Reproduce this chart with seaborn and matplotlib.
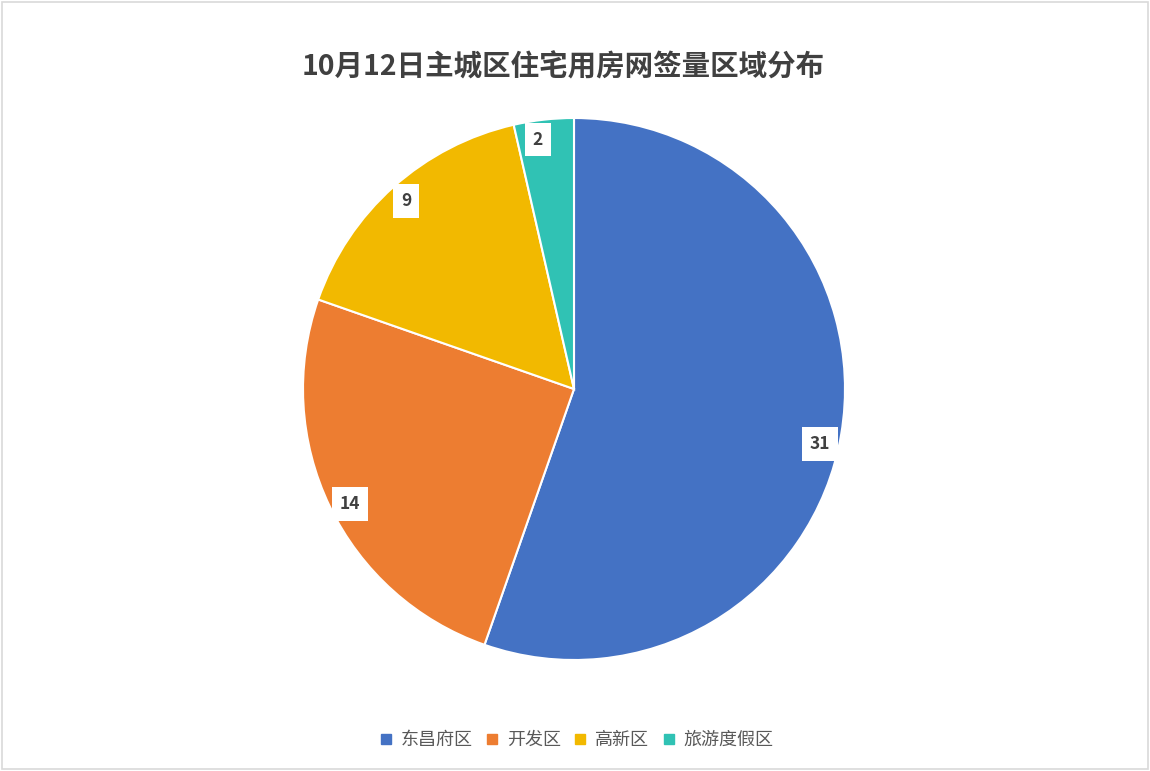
import matplotlib
matplotlib.use("Agg")
import matplotlib.pyplot as plt
import seaborn as sns
from matplotlib.patches import Rectangle
from matplotlib.lines import Line2D
import numpy as np

regions = ["东昌府区", "开发区", "高新区", "旅游度假区"]
counts = [31, 14, 9, 2]
colors = ["#4472C4", "#ED7D31", "#F2B900", "#30C2B4"]
title = "10月12日主城区住宅用房网签量区域分布"

sns.set_theme(style="white")
plt.rcParams['font.family'] = ['Noto Sans CJK SC', 'DejaVu Sans']

fig = plt.figure(figsize=(11.5, 7.71), dpi=100)
fig.patch.set_facecolor("white")

# chart border
fig.add_artist(Rectangle((0.002, 0.002), 0.996, 0.996, transform=fig.transFigure,
                         fill=False, edgecolor="#D9D9D9", linewidth=1.2))

W, H = 1150, 771
cx, cy, r = 574, 389, 271
ax = fig.add_axes([(cx - r) / W, (H - cy - r) / H, 2 * r / W, 2 * r / H])

palette = sns.color_palette(colors)
wedges, _ = ax.pie(counts, colors=palette, startangle=90, counterclock=False,
                   radius=1, wedgeprops=dict(edgecolor="white", linewidth=1.5))
ax.set_xlim(-1, 1)
ax.set_ylim(-1, 1)
ax.set_aspect("equal")
ax.axis("off")

# data labels, slightly nudged like Excel's "best fit"
total = sum(counts)
start = 90.0
nudge = [-3, 1.5, 0, 1.8]
for v, dn in zip(counts, nudge):
    sweep = v / total * 360
    mid = np.deg2rad(start - sweep / 2 + dn)
    start -= sweep
    ax.text(0.93 * np.cos(mid), 0.93 * np.sin(mid), str(v), ha="center", va="center",
            fontsize=12.5, fontweight="bold", color="#404040",
            bbox=dict(boxstyle="square,pad=0.45", facecolor="white", edgecolor="none"))

fig.text(563 / W, 1 - 67 / H, title, ha="center", va="center",
         fontsize=20.5, fontweight="bold", color="#404040")

handles = [Line2D([0], [0], marker="s", linestyle="none", markersize=7,
                  markerfacecolor=c, markeredgecolor=c) for c in colors]
fig.legend(handles, regions, loc="center", bbox_to_anchor=(575 / W, 1 - 740 / H),
           ncol=4, frameon=False, fontsize=13, labelcolor="#595959",
           handletextpad=0.3, columnspacing=0.6, handlelength=1.0)

fig.savefig("out.png", dpi=100, facecolor="white")
